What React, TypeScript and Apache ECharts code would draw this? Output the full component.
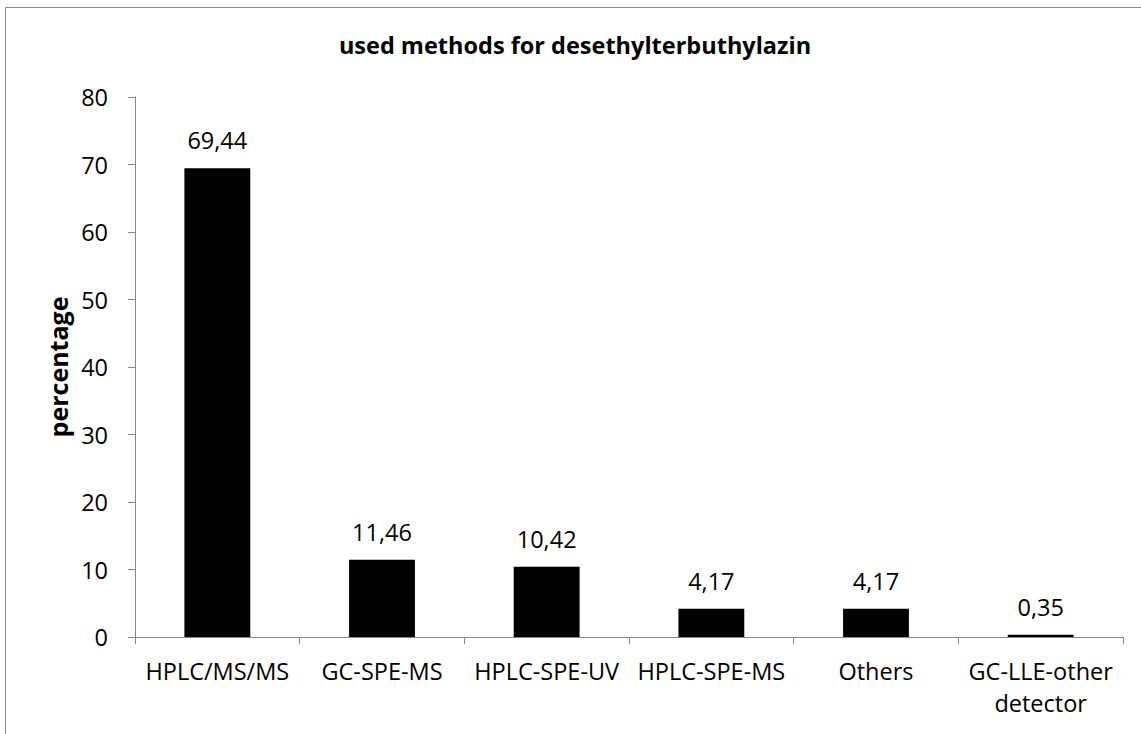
import React, { useEffect, useRef } from "react";
import * as echarts from "echarts";

const categories = ["HPLC/MS/MS", "GC-SPE-MS", "HPLC-SPE-UV", "HPLC-SPE-MS", "Others", "GC-LLE-other\ndetector"];
const percentages = [69.44, 11.46, 10.42, 4.17, 4.17, 0.35];
const yTicks = { min: 0, max: 80, interval: 10 };
const titleText = "used methods for desethylterbuthylazin";
const yAxisTitle = "percentage";

const FONT = "'Open Sans', sans-serif";

export default function App() {
  const ref = useRef<HTMLDivElement>(null);
  useEffect(() => {
    if (!ref.current) return;
    const chart = echarts.init(ref.current, undefined, { renderer: "svg" });
    chart.setOption({
      animation: false,
      backgroundColor: "#ffffff",
      textStyle: { fontFamily: FONT },
      title: {
        text: titleText,
        left: 570,
        textAlign: "center",
        top: 28,
        textStyle: { fontFamily: FONT, fontSize: 23.5, fontWeight: "bold", color: "#000" },
      },
      graphic: [
        {
          type: "rect",
          shape: { x: 5.5, y: 7.5, width: 1200, height: 800 },
          style: { fill: "none", stroke: "#8c8c8c", lineWidth: 1 },
          silent: true,
        },
      ],
      grid: { left: 135, right: 18, top: 97, bottom: 97 },
      xAxis: {
        type: "category",
        data: categories,
        axisLine: { lineStyle: { color: "#868686", width: 1 } },
        axisTick: { show: true, alignWithLabel: false, length: 7, lineStyle: { color: "#868686" } },
        axisLabel: { color: "#000", fontSize: 23.5, fontFamily: FONT, margin: 18, lineHeight: 32, interval: 0 },
      },
      yAxis: {
        type: "value",
        min: yTicks.min,
        max: yTicks.max,
        interval: yTicks.interval,
        name: yAxisTitle,
        nameLocation: "middle",
        nameGap: 60,
        nameTextStyle: { fontFamily: FONT, fontSize: 25, fontWeight: "bold", color: "#000" },
        axisLine: { show: true, lineStyle: { color: "#868686", width: 1 } },
        axisTick: { show: true, length: 7, lineStyle: { color: "#868686" } },
        axisLabel: { color: "#000", fontSize: 23.5, fontFamily: FONT, margin: 27 },
        splitLine: { show: false },
      },
      series: [
        {
          type: "bar",
          data: percentages,
          barWidth: "40%",
          itemStyle: { color: "#000" },
          label: {
            show: true,
            position: "top",
            distance: 16,
            color: "#000",
            fontSize: 23.5,
            fontFamily: FONT,
            formatter: (p: any) => Number(p.value).toFixed(2).replace(".", ","),
          },
        },
      ],
    });
    return () => chart.dispose();
  }, []);
  return (
    <div
      ref={ref}
      style={{ position: "fixed", left: 0, top: 0, width: 1141, height: 734, background: "#fff" }}
    />
  );
}
